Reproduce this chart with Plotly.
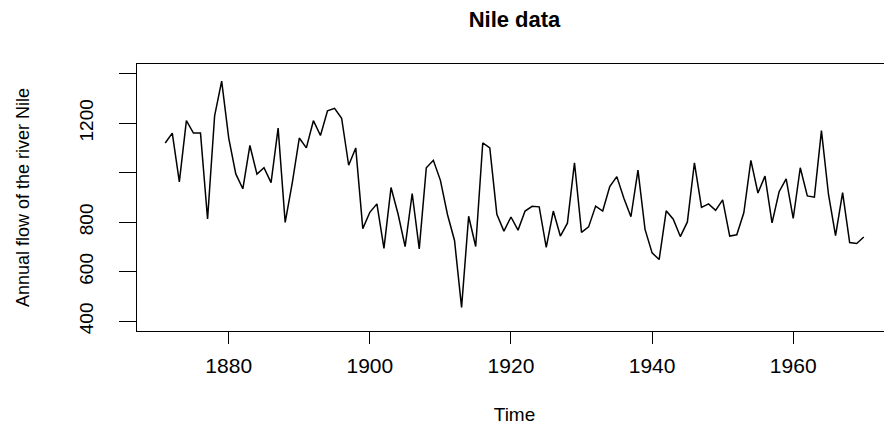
import plotly.graph_objects as go

years = list(range(1871, 1971))
flow = [1120, 1160, 963, 1210, 1160, 1160, 813, 1230, 1370, 1140,
        995, 935, 1110, 994, 1020, 960, 1180, 799, 958, 1140,
        1100, 1210, 1150, 1250, 1260, 1220, 1030, 1100, 774, 840,
        874, 694, 940, 833, 701, 916, 692, 1020, 1050, 969,
        831, 726, 456, 824, 702, 1120, 1100, 832, 764, 821,
        768, 845, 864, 862, 698, 845, 744, 796, 1040, 759,
        781, 865, 845, 944, 984, 897, 822, 1010, 771, 676,
        649, 846, 812, 742, 801, 1040, 860, 874, 848, 890,
        744, 749, 838, 1050, 918, 986, 797, 923, 975, 815,
        1020, 906, 901, 1170, 912, 746, 919, 718, 714, 740]

x_ticks = [1880, 1900, 1920, 1940, 1960]
y_ticks = [400, 600, 800, 1000, 1200, 1400]
y_tick_text = ["400", "600", "800", "", "1200", ""]

FONT = "Liberation Sans, Arial, sans-serif"

fig = go.Figure()
fig.add_trace(go.Scatter(x=years, y=flow, mode="lines",
                         line=dict(color="black", width=1.5),
                         showlegend=False, hoverinfo="skip"))

# page body has an 8px margin, so the figure is offset by (8, 8)
fig.update_layout(
    width=892, height=428,
    margin=dict(l=129, r=8, t=56, b=104.5, autoexpand=False),
    paper_bgcolor="white", plot_bgcolor="white",
    font=dict(family=FONT, color="black"),
    title=dict(text="<b>Nile data</b>", xref="paper", x=0.5, xanchor="center",
               yref="container", y=1 - 11 / 428, yanchor="middle",
               automargin=False,
               font=dict(size=22, family=FONT, color="black")),
)

fig.update_xaxes(
    range=[1867.0, 1974.0], tickmode="array", tickvals=x_ticks,
    ticks="outside", ticklen=12, tickwidth=1, tickcolor="black",
    showline=True, linecolor="black", linewidth=1, mirror=True,
    showgrid=False, zeroline=False, automargin=False,
    tickfont=dict(size=21, family=FONT, color="black"),
    ticklabelstandoff=4,
    title=dict(text="Time", font=dict(size=19, family=FONT, color="black"),
               standoff=31),
)
fig.update_yaxes(
    range=[360.5, 1439], tickmode="array", tickvals=y_ticks,
    ticktext=y_tick_text, tickangle=-90,
    ticks="outside", ticklen=17, tickwidth=1, tickcolor="black",
    showline=True, linecolor="black", linewidth=1, mirror=False,
    showgrid=False, zeroline=False, automargin=False,
    tickfont=dict(size=19, family=FONT, color="black"),
    ticklabelstandoff=18,
    title=dict(text="Annual flow of the river Nile",
               font=dict(size=18, family=FONT, color="black"),
               standoff=42),
)

fig.write_html("out.html")
